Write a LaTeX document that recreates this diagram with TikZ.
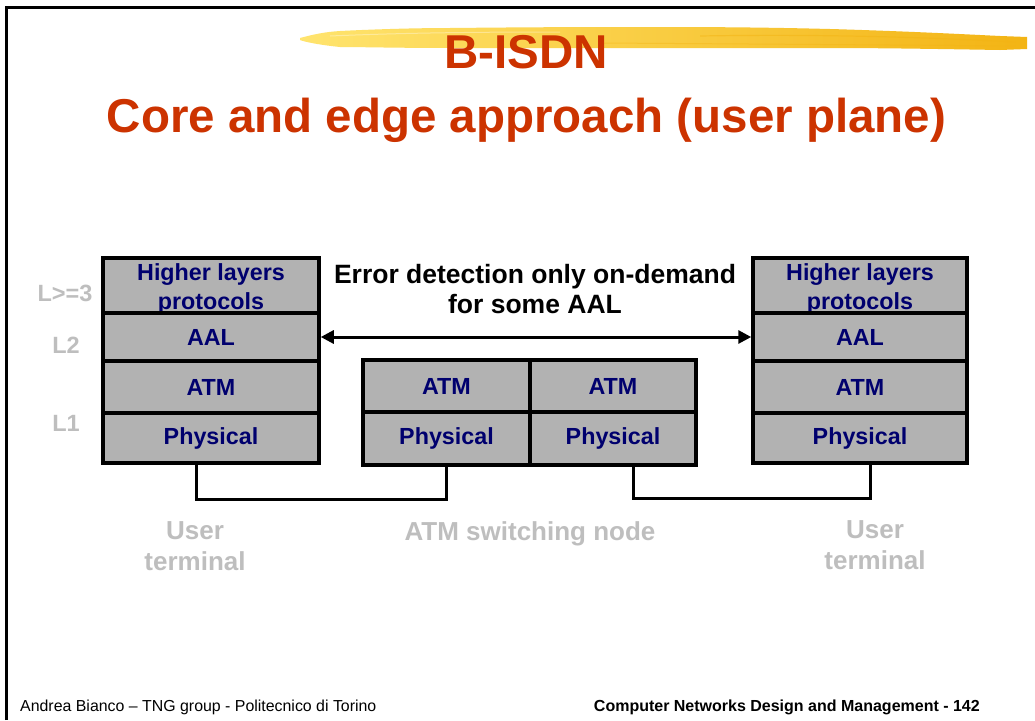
\documentclass[tikz,border=0pt]{standalone}
\usepackage{fontspec}
\setmainfont{Liberation Sans}
\usetikzlibrary{arrows.meta,calc}
\definecolor{titlered}{RGB}{204,51,0}
\definecolor{navy}{RGB}{0,0,110}
\definecolor{boxgray}{RGB}{178,178,178}
\definecolor{lblgray}{RGB}{190,190,190}
\definecolor{brushA}{RGB}{255,228,110}
\definecolor{brushB}{RGB}{250,202,45}
\definecolor{brushC}{RGB}{243,180,20}
\tikzset{
  layer/.style={draw=black, line width=3.5pt, fill=boxgray, text=navy,
    font=\fontsize{23.3}{29}\selectfont\bfseries, align=center,
    inner sep=0pt, anchor=center},
  boxtxt/.style={text=navy, font=\fontsize{23.3}{29}\selectfont\bfseries, align=center, inner sep=0pt},
  lbl/.style={text=lblgray, font=\fontsize{23.5}{28}\selectfont\bfseries, anchor=base, inner sep=0pt},
  glbl/.style={text=lblgray, font=\fontsize{26}{31}\selectfont\bfseries, anchor=base, inner sep=0pt, align=center},
  conn/.style={draw=black, line width=3pt},
  titletext/.style={text=titlered, font=\fontsize{47.5}{56}\selectfont\bfseries, anchor=base, inner sep=0pt}
}
\begin{document}
\begin{tikzpicture}[x=1pt,y=-1pt]
\useasboundingbox (0,0) rectangle (1035,720);
\fill[white] (0,0) rectangle (1035,720);
% frame
\draw[line width=3pt] (6,720) -- (6,7) -- (1035,7);
% yellow brush stroke
\shade[left color=brushA, middle color=brushB, right color=brushC]
  (300,38) .. controls (315,34) and (325,32) .. (340,31)
  .. controls (380,29) and (420,28) .. (450,28)
  .. controls (550,27) and (600,27) .. (660,27)
  .. controls (740,27) and (790,28) .. (830,29)
  .. controls (900,31) and (960,34) .. (1000,36)
  -- (1027,37) -- (1027,49) -- (1000,50)
  .. controls (940,49) and (880,48) .. (830,48)
  .. controls (760,48) and (700,48) .. (660,48)
  .. controls (580,48) and (520,48) .. (450,48)
  .. controls (400,48) and (360,47) .. (340,47)
  .. controls (320,45) and (305,42) .. (300,40) -- cycle;
\draw[brushC, line width=1.2pt, opacity=0.5] (700,36) .. controls (820,34) and (920,37) .. (1015,42);
\draw[brushC, line width=1pt, opacity=0.4] (600,43) .. controls (750,44) and (900,45) .. (1015,46);
\draw[white, line width=1pt, opacity=0.35] (330,36) .. controls (400,33) and (470,32) .. (560,32);
% title
\node[titletext] (t1) at (526,68) {B-ISDN};
\node[titletext] (t2) at (526.5,132) {Core and edge approach (user plane)};
% left stack
\node[layer, minimum width=216pt, minimum height=55pt] (Lhl) at (211,285.5) {};
\node[boxtxt] (Lhlt) at ([yshift=-3.5pt]Lhl.center) {Higher layers\\protocols};
\node[layer, minimum width=216pt, minimum height=48pt] (Laal) at (211,337) {AAL};
\node[layer, minimum width=216pt, minimum height=52pt] (Latm) at (211,387) {ATM};
\node[layer, minimum width=216pt, minimum height=50pt] (Lphy) at (211,438) {Physical};
% right stack
\node[layer, minimum width=214pt, minimum height=55pt] (Rhl) at (860,285.5) {};
\node[boxtxt] (Rhlt) at ([yshift=-3.5pt]Rhl.center) {Higher layers\\protocols};
\node[layer, minimum width=214pt, minimum height=48pt] (Raal) at (860,337) {AAL};
\node[layer, minimum width=214pt, minimum height=52pt] (Ratm) at (860,387) {ATM};
\node[layer, minimum width=214pt, minimum height=50pt] (Rphy) at (860,438) {Physical};
% middle switch
\node[layer, minimum width=167pt, minimum height=52pt] (Matm1) at (446.5,386) {ATM};
\node[layer, minimum width=167pt, minimum height=53pt] (Mphy1) at (446.5,438.5) {Physical};
\node[layer, minimum width=166pt, minimum height=52pt] (Matm2) at (613,386) {ATM};
\node[layer, minimum width=166pt, minimum height=53pt] (Mphy2) at (613,438.5) {Physical};
% connectors
\draw[conn] ([xshift=-15pt]Lphy.south) |- (322,499) -| (Mphy1.south);
\draw[conn] ([xshift=20pt]Mphy2.south) |- (750,498) -| ([xshift=10pt]Rphy.south);
% arrow
\draw[line width=3pt, {Triangle[length=13pt,width=13pt]}-{Triangle[length=13pt,width=13pt]}] (Laal.east) -- (Raal.west);
\node[anchor=base, inner sep=0pt, font=\fontsize{26.5}{30}\selectfont\bfseries] (err1) at (535,283) {Error detection only on-demand};
\node[anchor=base, inner sep=0pt, font=\fontsize{26.5}{30}\selectfont\bfseries] (err2) at (535,313) {for some AAL};
% layer labels
\node[lbl] (l3) at (65,301) {L>=3};
\node[lbl] (l2) at (66,353) {L2};
\node[lbl] (l1) at (66,431) {L1};
% bottom labels
\node[glbl] (u1a) at (195,539) {User};
\node[glbl] (u1b) at (195,570) {terminal};
\node[glbl] (sw) at (530,540) {ATM switching node};
\node[glbl] (u2a) at (875,538) {User};
\node[glbl] (u2b) at (875,569) {terminal};
% footer
\node[anchor=base west, inner sep=0pt, font=\fontsize{15.9}{18}\selectfont] (f1) at (20,711) {Andrea Bianco -- TNG group - Politecnico di Torino};
\node[anchor=base east, inner sep=0pt, font=\fontsize{16}{18}\selectfont\bfseries] (f2) at (980,711) {Computer Networks Design and Management - 142};
\end{tikzpicture}
\end{document}
